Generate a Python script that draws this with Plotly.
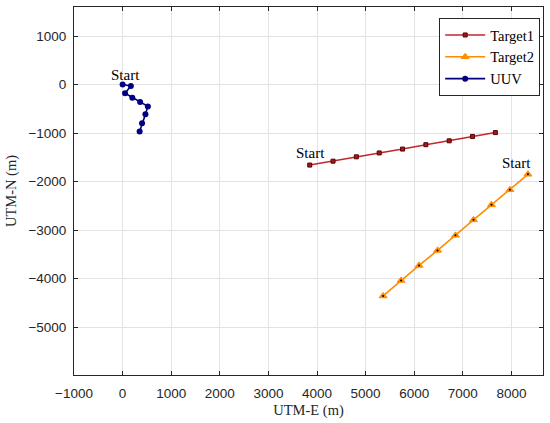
import plotly.graph_objects as go

# Data (metres)
uuv_e = [0, 170, 50, 200, 360, 520, 470, 400, 350]
uuv_n = [0, -30, -180, -270, -360, -450, -610, -800, -970]

t1_e = [3850, 4330, 4810, 5280, 5760, 6240, 6720, 7200, 7670]
t1_n = [-1660, -1580, -1490, -1410, -1330, -1240, -1160, -1070, -990]

t2_e = [8340, 7970, 7590, 7220, 6850, 6480, 6100, 5730, 5360]
t2_n = [-1850, -2170, -2480, -2790, -3110, -3420, -3730, -4040, -4360]

x_range = [-1000, 8650]
y_range = [-5990, 1600]
x_ticks = [-1000, 0, 1000, 2000, 3000, 4000, 5000, 6000, 7000, 8000]
y_ticks = [-5000, -4000, -3000, -2000, -1000, 0, 1000]

serif = "Liberation Serif, Times New Roman, serif"
sans = "Liberation Sans, Arial, sans-serif"
axcol = "#262626"

fig = go.Figure()
fig.add_trace(go.Scatter(
    x=t1_e, y=t1_n, mode="lines+markers", name="Target1",
    line=dict(color="#C0282D", width=1.6),
    marker=dict(symbol="square", size=4, color="#A01A1E",
                line=dict(color="#5A0000", width=1))))
fig.add_trace(go.Scatter(
    x=t2_e, y=t2_n, mode="lines+markers", name="Target2",
    line=dict(color="#FF8C00", width=1.6),
    marker=dict(symbol="triangle-up", size=7, color="#FF8C00",
                line=dict(color="#FF8C00", width=1))))
fig.add_trace(go.Scatter(
    x=t2_e, y=t2_n, mode="markers", showlegend=False, hoverinfo="skip",
    marker=dict(symbol="circle", size=2, color="#000000")))
fig.add_trace(go.Scatter(
    x=uuv_e, y=uuv_n, mode="lines+markers", name="UUV",
    line=dict(color="#000080", width=1.6),
    marker=dict(symbol="circle", size=6, color="#000080")))

starts = [(uuv_e[0], uuv_n[0], 3, 10), (t1_e[0], t1_n[0], 1, 12), (t2_e[0], t2_n[0], -11, 11)]
for sx, sy, dx, dy in starts:
    fig.add_annotation(x=sx, y=sy, text="Start", showarrow=False,
                       xshift=dx, yshift=dy, xanchor="center", yanchor="middle",
                       font=dict(family=serif, size=15, color="black"))

axis_common = dict(
    showgrid=True, gridcolor="#E3E3E3", gridwidth=1,
    showline=True, linecolor=axcol, linewidth=1, mirror="allticks",
    ticks="inside", ticklen=4, tickcolor=axcol, tickwidth=1,
    zeroline=False, automargin=False,
    tickfont=dict(family=sans, size=13.5, color=axcol),
)

fig.update_xaxes(range=x_range, tickmode="array", tickvals=x_ticks,
                 title=dict(text="UTM-E (m)", font=dict(family=serif, size=14.5, color=axcol), standoff=4),
                 ticklabelstandoff=6, **axis_common)
fig.update_yaxes(range=y_range, tickmode="array", tickvals=y_ticks,
                 title=dict(text="UTM-N (m)", font=dict(family=serif, size=14.5, color=axcol), standoff=8),
                 ticklabelstandoff=4, **axis_common)

fig.update_layout(
    width=550, height=423,
    margin=dict(l=74, r=7, t=7, b=48),
    plot_bgcolor="white", paper_bgcolor="white",
    showlegend=True,
    legend=dict(x=0.994, y=0.970, xanchor="right", yanchor="top",
                bgcolor="white", bordercolor=axcol, borderwidth=1,
                font=dict(family=serif, size=14.5, color="black"),
                tracegroupgap=0, itemwidth=40),
)

fig.write_html("out.html", config={"displayModeBar": False},
               post_script="document.body.style.margin='0';document.body.style.overflow='hidden';")
